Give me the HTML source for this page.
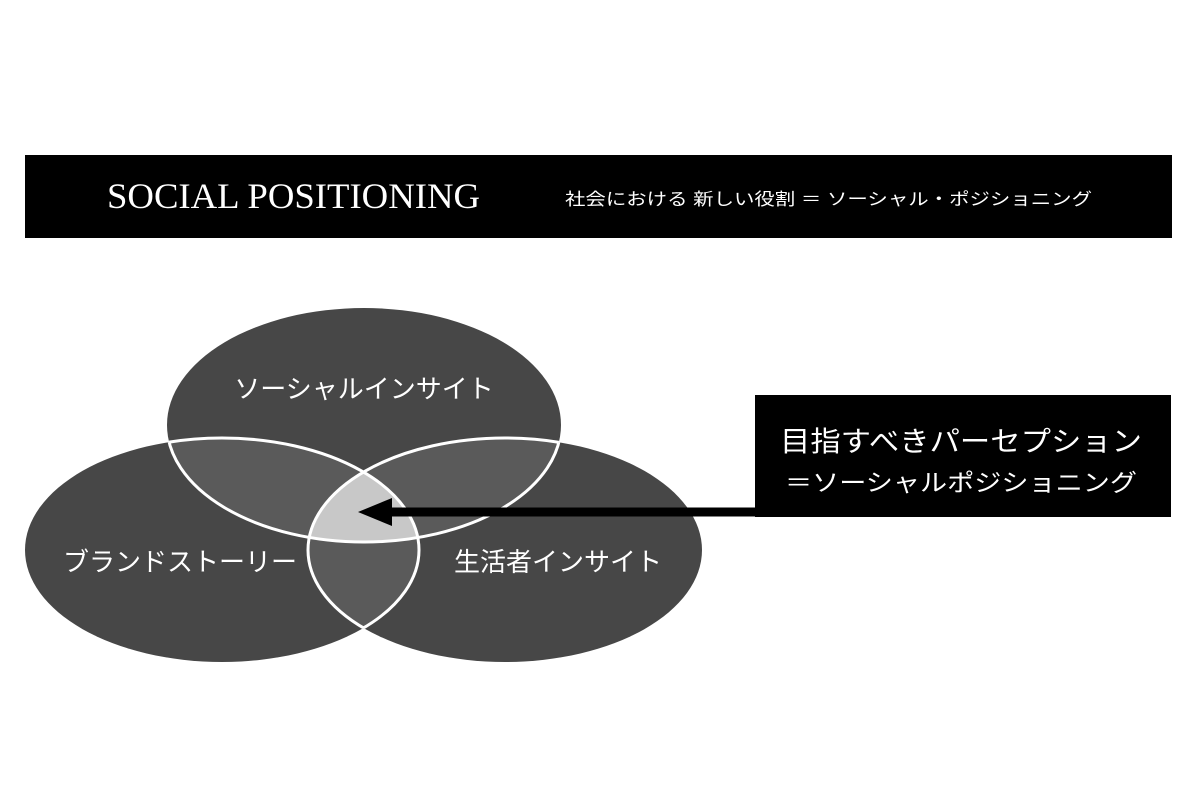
<!DOCTYPE html>
<html><head><meta charset="utf-8"><style>
html,body{margin:0;padding:0;background:#fff;}
svg{display:block;}
text{font-family:"Liberation Sans","Noto Sans CJK JP",sans-serif;}
</style></head><body>
<svg width="1200" height="800" viewBox="0 0 1200 800" xmlns="http://www.w3.org/2000/svg">
<defs>
<ellipse id="eT" cx="364" cy="425" rx="197" ry="117"/>
<ellipse id="eL" cx="222" cy="550" rx="197" ry="112"/>
<ellipse id="eR" cx="505" cy="550" rx="197" ry="112"/>
<clipPath id="cT"><use href="#eT"/></clipPath>
<clipPath id="cL"><use href="#eL"/></clipPath>
<clipPath id="cR"><use href="#eR"/></clipPath>
<clipPath id="notT"><use href="#eL"/><use href="#eR"/></clipPath>
<clipPath id="notL"><use href="#eT"/><use href="#eR"/></clipPath>
<clipPath id="notR"><use href="#eT"/><use href="#eL"/></clipPath>
</defs>
<rect x="25" y="155" width="1147" height="83" fill="#000"/>
<text x="107" y="208" font-size="36" fill="#fff" textLength="373" lengthAdjust="spacingAndGlyphs" style="font-family:'Liberation Serif',serif">SOCIAL POSITIONING</text>
<text x="565" y="205" font-size="17" fill="#fff" textLength="527" lengthAdjust="spacingAndGlyphs">社会における 新しい役割 ＝ ソーシャル・ポジショニング</text>

<use href="#eT" fill="#474747"/>
<use href="#eL" fill="#474747"/>
<use href="#eR" fill="#474747"/>
<g clip-path="url(#cT)"><use href="#eL" fill="#5a5a5a"/><use href="#eR" fill="#5a5a5a"/></g>
<g clip-path="url(#cL)"><use href="#eR" fill="#5a5a5a"/></g>
<g clip-path="url(#cT)"><g clip-path="url(#cL)"><use href="#eR" fill="#c8c8c8"/></g></g>
<g clip-path="url(#notT)"><use href="#eT" fill="none" stroke="#fff" stroke-width="3"/></g>
<g clip-path="url(#notL)"><use href="#eL" fill="none" stroke="#fff" stroke-width="3"/></g>
<g clip-path="url(#notR)"><use href="#eR" fill="none" stroke="#fff" stroke-width="3"/></g>

<text x="364" y="398" font-size="26" fill="#fff" text-anchor="middle">ソーシャルインサイト</text>
<text x="180" y="571" font-size="26" fill="#fff" text-anchor="middle">ブランドストーリー</text>
<text x="558" y="571" font-size="26" fill="#fff" text-anchor="middle">生活者インサイト</text>

<rect x="755" y="395" width="416" height="122" fill="#000"/>
<line x1="390" y1="512" x2="760" y2="512" stroke="#000" stroke-width="9"/>
<polygon points="358,512 392,498 392,526" fill="#000"/>
<text x="780" y="451" font-size="28" fill="#fff" textLength="362" lengthAdjust="spacingAndGlyphs">目指すべきパーセプション</text>
<text x="785" y="491" font-size="24" fill="#fff" textLength="352" lengthAdjust="spacingAndGlyphs">＝ソーシャルポジショニング</text>
</svg>
</body></html>
